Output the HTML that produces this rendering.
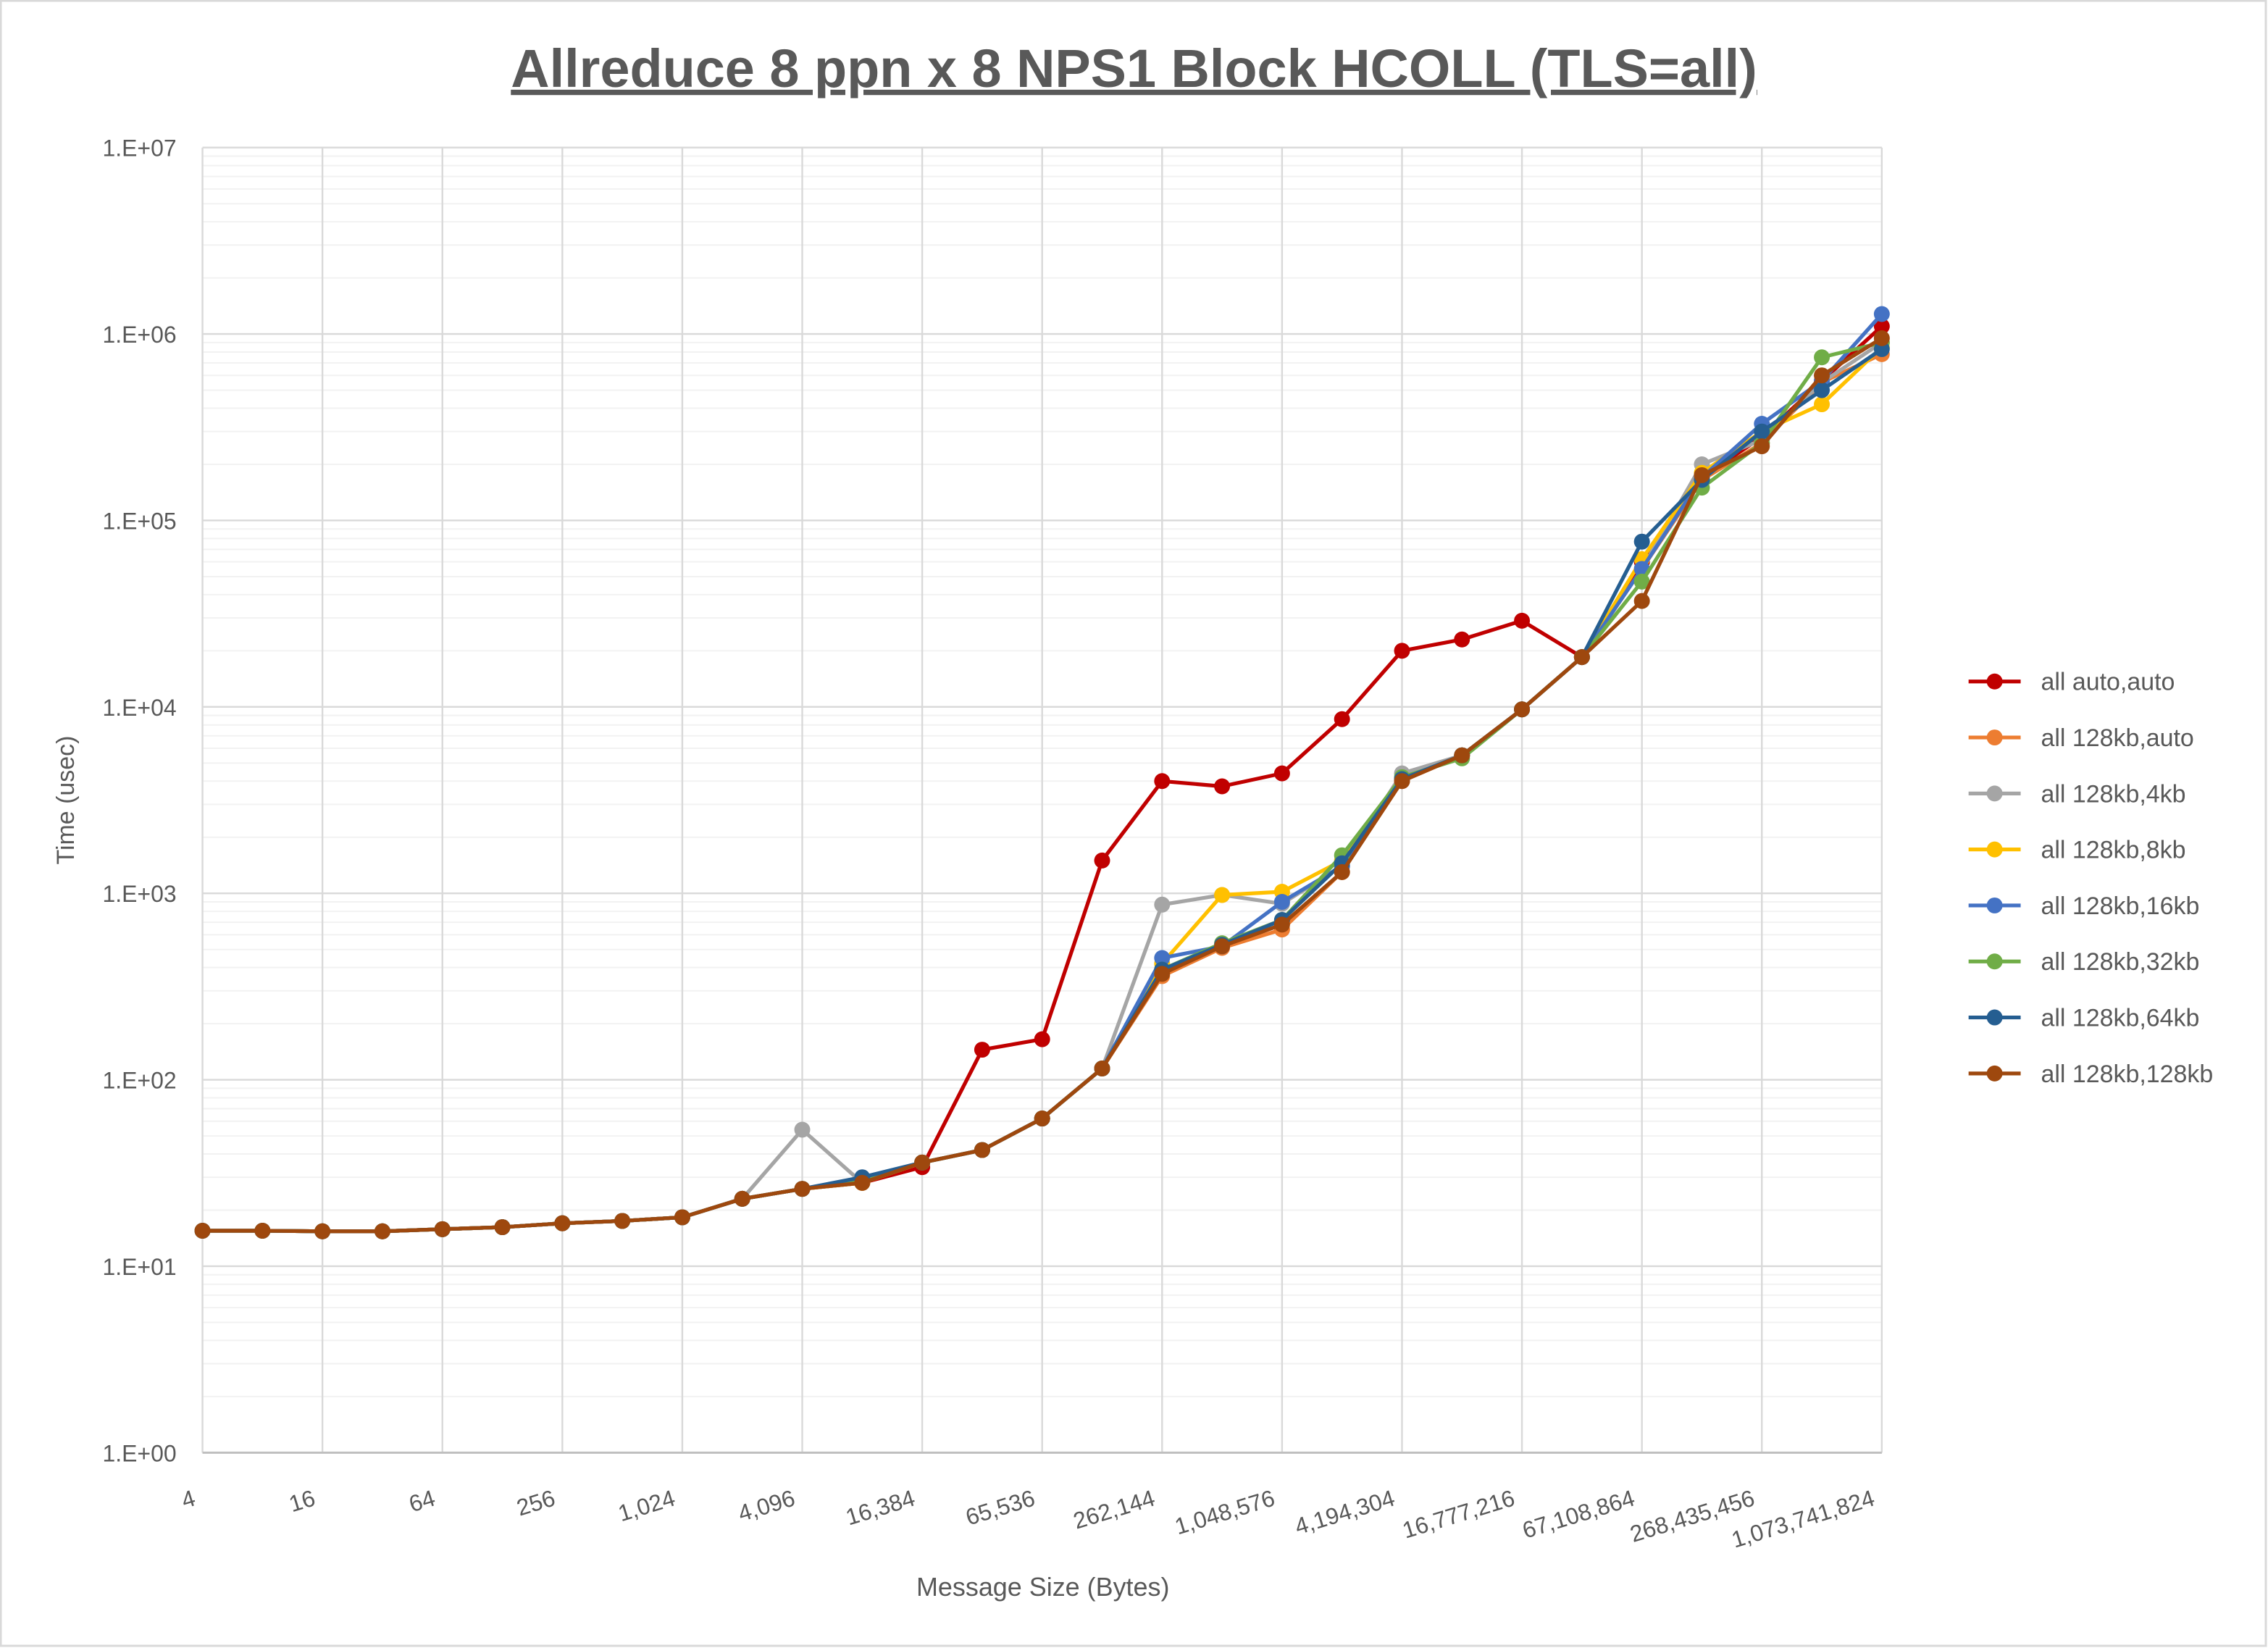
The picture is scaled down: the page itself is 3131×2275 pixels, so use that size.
<!DOCTYPE html>
<html><head><meta charset="utf-8"><style>
html,body{margin:0;padding:0;background:#fff;}
svg{display:block;font-family:"Liberation Sans",sans-serif;}
</style></head><body>
<svg id="chart" width="3131" height="2275" viewBox="0 0 1568 1139" preserveAspectRatio="none" xmlns="http://www.w3.org/2000/svg">
<rect x="0.5" y="0.5" width="1566" height="1137" fill="#fff" stroke="#d9d9d9" stroke-width="1.5"/>
<text x="784" y="60" text-anchor="middle" font-size="37" font-weight="bold" fill="#595959" text-decoration="underline">Allreduce 8 ppn x 8 NPS1 Block HCOLL (TLS=all)</text>
<g id="grid"></g>
<g id="axes"></g>
<g id="series"></g>
<g id="legend"></g>
<text x="0" y="0" transform="translate(51,553) rotate(-90)" text-anchor="middle" font-size="17" fill="#595959">Time (usec)</text>
<text x="721" y="1103" text-anchor="middle" font-size="18" fill="#595959">Message Size (Bytes)</text>
</svg>
<script>
const categories = ["4","8","16","32","64","128","256","512","1,024","2,048","4,096","8,192","16,384","32,768","65,536","131,072","262,144","524,288","1,048,576","2,097,152","4,194,304","8,388,608","16,777,216","33,554,432","67,108,864","134,217,728","268,435,456","536,870,912","1,073,741,824"];
const yTickLabels = ["1.E+00","1.E+01","1.E+02","1.E+03","1.E+04","1.E+05","1.E+06","1.E+07"];
const seriesNames = ["all auto,auto","all 128kb,auto","all 128kb,4kb","all 128kb,8kb","all 128kb,16kb","all 128kb,32kb","all 128kb,64kb","all 128kb,128kb"];
const seriesColors = ["#c00000","#ed7d31","#a5a5a5","#ffc000","#4472c4","#70ad47","#255e91","#9e480e"];
const sAutoAuto = [15.5,15.5,15.4,15.4,15.8,16.2,17,17.5,18.3,23,26,28,34,145,165,1500,4000,3750,4400,8600,20000,23000,29000,18500,60000,170000,280000,560000,1100000];
const s128Auto  = [15.5,15.5,15.4,15.4,15.8,16.2,17,17.5,18.3,23,26,28,36,42,62,115,360,510,640,1300,4000,5500,9700,18500,55000,165000,260000,550000,780000];
const s128_4    = [15.5,15.5,15.4,15.4,15.8,16.2,17,17.5,18.3,23,54,28,36,42,62,115,870,980,880,1400,4400,5500,9700,18500,55000,200000,270000,550000,900000];
const s128_8    = [15.5,15.5,15.4,15.4,15.8,16.2,17,17.5,18.3,23,26,28,36,42,62,115,420,980,1020,1500,4100,5500,9700,18500,62000,180000,300000,420000,850000];
const s128_16   = [15.5,15.5,15.4,15.4,15.8,16.2,17,17.5,18.3,23,26,29,36,42,62,115,450,520,900,1400,4100,5500,9700,18500,55000,170000,330000,560000,1280000];
const s128_32   = [15.5,15.5,15.4,15.4,15.8,16.2,17,17.5,18.3,23,26,29,36,42,62,115,390,540,720,1600,4200,5300,9700,18500,47000,150000,260000,750000,900000];
const s128_64   = [15.5,15.5,15.4,15.4,15.8,16.2,17,17.5,18.3,23,26,30,36,42,62,115,390,530,720,1450,4100,5500,9700,18500,77000,165000,300000,500000,830000];
const s128_128  = [15.5,15.5,15.4,15.4,15.8,16.2,17,17.5,18.3,23,26,28,36,42,62,115,370,520,680,1300,4000,5500,9700,18500,37000,175000,250000,600000,950000];
const allSeries = [sAutoAuto,s128Auto,s128_4,s128_8,s128_16,s128_32,s128_64,s128_128];

const NS="http://www.w3.org/2000/svg";
const L=140,R=1301,T=102,B=1004;
function xPos(i){return L+(R-L)*i/(categories.length-1);}
function yPos(v){return B-(B-T)*Math.log10(v)/7;}
function mk(tag,attrs,parent){const e=document.createElementNS(NS,tag);for(const k in attrs)e.setAttribute(k,attrs[k]);parent.appendChild(e);return e;}
const grid=document.getElementById('grid'),axes=document.getElementById('axes'),series=document.getElementById('series'),legend=document.getElementById('legend');
// minor horizontal gridlines
for(let d=0;d<7;d++){for(let m=2;m<=9;m++){const y=yPos(Math.pow(10,d)*m);
const ln=mk('line',{x1:L,x2:R,y1:y,y2:y,stroke:'#f2f2f2','stroke-width':1},grid);

}}
for(let d=0;d<=7;d++){const y=yPos(Math.pow(10,d));
const ln=mk('line',{x1:L,x2:R,y1:y,y2:y,stroke:'#d9d9d9','stroke-width':1.2},grid);


const t=mk('text',{x:122,y:y+6,'text-anchor':'end','font-size':16,fill:'#595959'},axes);
t.textContent=yTickLabels[d];

}
for(let i=0;i<categories.length;i+=2){const x=xPos(i);
const ln=mk('line',{x1:x,x2:x,y1:T,y2:B,stroke:'#d9d9d9','stroke-width':1.2},grid);


const t=mk('text',{x:0,y:0,'text-anchor':'end','font-size':16,fill:'#595959',transform:'translate('+(x-4)+','+(1040)+') rotate(-17)'},axes);
t.textContent=categories[i];

}
const ax=mk('line',{x1:L,x2:R,y1:B,y2:B,stroke:'#bfbfbf','stroke-width':1.5},axes);


allSeries.forEach((data,s)=>{
const g=mk('g',{},series);


const pts=data.map((v,i)=>xPos(i).toFixed(2)+','+yPos(v).toFixed(2)).join(' ');
const pl=mk('polyline',{points:pts,fill:'none',stroke:seriesColors[s],'stroke-width':2.6,'stroke-linejoin':'round'},g);


data.forEach((v,i)=>{const c=mk('circle',{cx:xPos(i),cy:yPos(v),r:5.5,fill:seriesColors[s]},g);

});
const ly=471+s*38.7;
const lg=mk('g',{},legend);


mk('line',{x1:1361,x2:1397,y1:ly,y2:ly,stroke:seriesColors[s],'stroke-width':2.6},lg);
mk('circle',{cx:1379,cy:ly,r:5.5,fill:seriesColors[s]},lg);
const t=mk('text',{x:1411,y:ly+6,'font-size':17,fill:'#595959'},lg);
t.textContent=seriesNames[s];
});
</script>
</body></html>
